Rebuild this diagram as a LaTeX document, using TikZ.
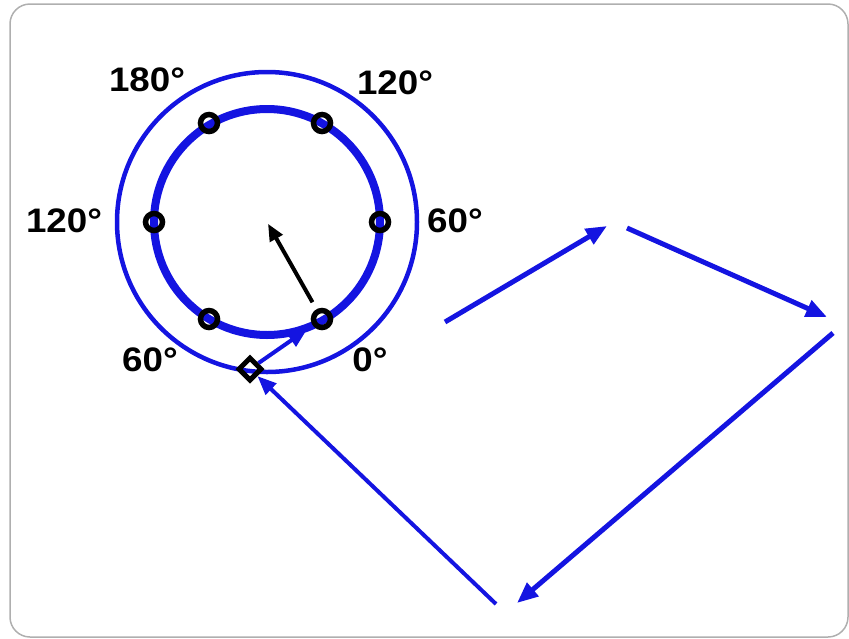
\documentclass[tikz,border=0pt]{standalone}
\usepackage{fontspec}
\newfontfamily\lblfont[FakeStretch=1.08]{Liberation Sans}
\usetikzlibrary{shapes.geometric,arrows.meta}
\definecolor{ringblue}{RGB}{20,20,225}
\definecolor{framegray}{RGB}{175,175,175}
\tikzset{
  lbl/.style={font=\lblfont\bfseries\fontsize{34}{34}\selectfont, inner sep=0pt, text=black},
  marker/.style={circle, draw=black, line width=5.5pt, minimum size=17pt, inner sep=0pt},
  flow/.style={draw=ringblue, line width=5pt, -{Triangle[length=21pt,width=17pt]}},
  thinflow/.style={draw=ringblue, line width=4pt, -{Triangle[length=19pt,width=15pt]}},
  pointer/.style={draw=black, line width=4pt, -{Triangle[length=17pt,width=14pt]}},
}
\begin{document}
\begin{tikzpicture}[x=1pt,y=-1pt]
\useasboundingbox (0,0) rectangle (849,638);
\draw[framegray, line width=1.5pt, rounded corners=20pt] (10,4) rectangle (848,637);
% rings
\coordinate (c) at (267,222);
\draw[ringblue, line width=4.5pt] (c) circle[radius=150];
\draw[ringblue, line width=8pt] (c) circle[radius=113];
% markers
\node[marker] (m60)  at (322,123) {};
\node[marker] (m120) at (209,123) {};
\node[marker] (m0)   at (380,222) {};
\node[marker] (m180) at (154,222) {};
\node[marker] (mm60) at (322,319) {};
\node[marker] (mm120) at (209,319) {};
% diamond
\node[diamond, draw=black, line width=5pt, minimum size=24pt, inner sep=0pt] (dia) at (250,369) {};
% labels
\node[lbl] (l180) at (147,80) {180°};
\node[lbl] (l120a) at (395,83) {120°};
\node[lbl] (l120b) at (64,221) {120°};
\node[lbl] (l60a) at (455,221) {60°};
\node[lbl] (l60b) at (150,360) {60°};
\node[lbl] (l0) at (370,360) {0°};
% pointer to centre
\draw[pointer, shorten <=8pt, shorten >=2pt] (mm60) -- (c);
% diamond to marker
\draw[thinflow, shorten >=7pt] (dia) -- (mm60);
% zigzag arrows
\coordinate (a1s) at (445,322);
\coordinate (a1e) at (607,226);
\coordinate (a2s) at (627,228);
\coordinate (a2e) at (827,317);
\coordinate (a3s) at (833,333);
\coordinate (a3e) at (517,603);
\coordinate (a4s) at (496,604);
\draw[flow] (a1s) -- (a1e);
\draw[flow] (a2s) -- (a2e);
\draw[flow] (a3s) -- (a3e);
\draw[thinflow, shorten >=0pt] (a4s) -- (dia);
\end{tikzpicture}
\end{document}
